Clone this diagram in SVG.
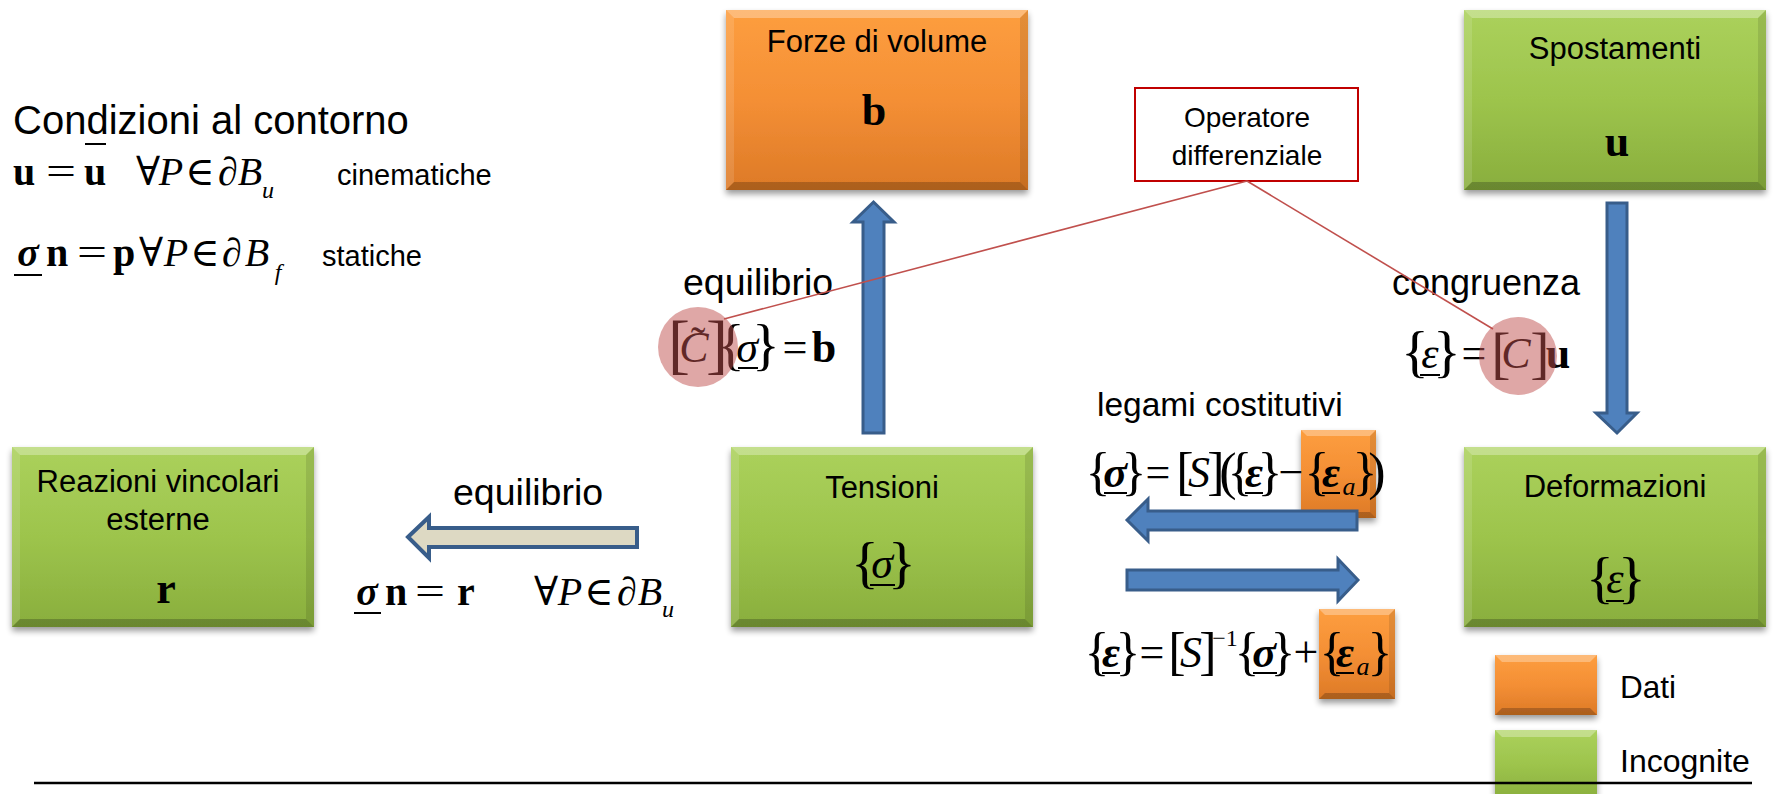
<svg xmlns="http://www.w3.org/2000/svg" xmlns:xlink="http://www.w3.org/1999/xlink" width="1778" height="794" viewBox="0 0 1778 794">
<defs>
<linearGradient id="gGreen" x1="0" y1="0" x2="0" y2="1">
<stop offset="0" stop-color="#abd15c"/><stop offset="0.5" stop-color="#9dc44c"/><stop offset="1" stop-color="#89ae3d"/>
</linearGradient>
<linearGradient id="gOrange" x1="0" y1="0" x2="0" y2="1">
<stop offset="0" stop-color="#fd9e3f"/><stop offset="0.5" stop-color="#f48f35"/><stop offset="1" stop-color="#dd7a27"/>
</linearGradient>
<filter id="sh" x="-10%" y="-10%" width="120%" height="130%">
<feGaussianBlur in="SourceAlpha" stdDeviation="3"/>
<feOffset dx="0" dy="4" result="o"/>
<feComponentTransfer><feFuncA type="linear" slope="0.4"/></feComponentTransfer>
<feMerge><feMergeNode/><feMergeNode in="SourceGraphic"/></feMerge>
</filter>
<g id="gbox">
<rect width="302" height="180" fill="url(#gGreen)"/>
<polygon points="0,0 302,0 294,8 8,8" class="bt"/>
<polygon points="0,0 8,8 8,172 0,180" class="bl"/>
<polygon points="302,0 302,180 294,172 294,8" class="br"/>
<polygon points="0,180 8,172 294,172 302,180" class="bb"/>
</g>
<g id="obox">
<rect width="302" height="180" fill="url(#gOrange)"/>
<polygon points="0,0 302,0 294,8 8,8" class="bt"/>
<polygon points="0,0 8,8 8,172 0,180" class="bl"/>
<polygon points="302,0 302,180 294,172 294,8" class="br"/>
<polygon points="0,180 8,172 294,172 302,180" class="bb"/>
</g>
<style>
.bt{fill:#ffffff;fill-opacity:0.3}
.bl{fill:#ffffff;fill-opacity:0.12}
.br{fill:#000000;fill-opacity:0.1}
.bb{fill:#000000;fill-opacity:0.22}
.s{font-family:"Liberation Sans",Arial,sans-serif;fill:#000}
.t{font-size:31px;text-anchor:middle}
.lab{font-size:37.5px}
.m{font-family:"Liberation Serif","DejaVu Serif",serif;font-size:44px;fill:#000;text-anchor:middle}
.m40{font-size:40px}
.b{font-weight:bold}
.i{font-style:italic}
.br52{font-size:52px}
.br58{font-size:58px}
.ul{stroke:#000;stroke-width:2}
.blue{fill:#4f81bd;stroke:#385d8a;stroke-width:3}
.beige{fill:#ddd9c3;stroke:#385d8a;stroke-width:4}
.red{stroke:#c0504d;stroke-width:1.6;fill:none}
.hl{fill:#c0504d;fill-opacity:0.5}
</style>
</defs>
<rect width="1778" height="794" fill="#ffffff"/>

<g id="condizioni">
<text class="s" x="13" y="134" style="font-size:40px">Condizioni al contorno</text>
<text class="m m40 b" x="24" y="185">u</text>
<text class="m m40" x="61" y="185" textLength="30" lengthAdjust="spacingAndGlyphs">=</text>
<text class="m m40 b" x="95" y="185">u</text>
<line class="ul" x1="85" y1="144" x2="106" y2="144" stroke-width="2.5"/>
<text class="m m40" x="148" y="185">∀</text>
<text class="m m40 i" x="171" y="185">P</text>
<text class="m m40" x="200" y="185">∈</text>
<text class="m m40" x="228" y="185">∂</text>
<text class="m m40 i" x="250" y="185">B</text>
<text class="m i" x="268" y="198" style="font-size:24px">u</text>
<text class="s" x="337" y="185" style="font-size:29px">cinematiche</text>
<text class="m m40 b i" x="28" y="266">σ</text>
<line class="ul" x1="14" y1="275" x2="42" y2="275" stroke-width="2.5"/>
<text class="m m40 b" x="57" y="266">n</text>
<text class="m m40" x="92" y="266" textLength="30" lengthAdjust="spacingAndGlyphs">=</text>
<text class="m m40 b" x="124" y="266">p</text>
<text class="m m40" x="151" y="266">∀</text>
<text class="m m40 i" x="176" y="266">P</text>
<text class="m m40" x="205" y="266">∈</text>
<text class="m m40" x="232" y="266">∂</text>
<text class="m m40 i" x="257" y="266">B</text>
<text class="m i" x="278" y="280" style="font-size:24px">f</text>
<text class="s" x="322" y="266" style="font-size:29px">statiche</text>
</g>

<g id="connectors">
<path class="blue" d="M873.5,202 L894,222 L884,222 L884,433 L863,433 L863,222 L853,222 Z"/>
<path class="blue" d="M1617,433 L1637,413 L1627,413 L1627,203 L1607,203 L1607,413 L1596,413 Z"/>
<path class="beige" d="M408,537 L429,517 L429,528 L637,528 L637,547 L429,547 L429,558 Z"/>
</g>

<g id="forze" filter="url(#sh)">
<use xlink:href="#obox" x="726" y="10"/>
</g>
<g id="forze-text">
<text class="s t" x="877" y="52">Forze di volume</text>
<text class="m b" x="874" y="125">b</text>
</g>

<g id="spostamenti" filter="url(#sh)">
<use xlink:href="#gbox" x="1464" y="10"/>
</g>
<g id="spostamenti-text">
<text class="s t" x="1615" y="59">Spostamenti</text>
<text class="m b" x="1617" y="156">u</text>
</g>

<g id="tensioni" filter="url(#sh)">
<use xlink:href="#gbox" x="731" y="447"/>
</g>
<g id="tensioni-text">
<text class="s t" x="882" y="498">Tensioni</text>
<text class="m br58" x="865" y="582">{</text>
<text class="m i" x="882" y="578">σ</text>
<line class="ul" x1="870" y1="585" x2="895" y2="585"/>
<text class="m br58" x="902" y="582">}</text>
</g>

<g id="deformazioni" filter="url(#sh)">
<use xlink:href="#gbox" x="1464" y="447"/>
</g>
<g id="deformazioni-text">
<text class="s t" x="1615" y="497">Deformazioni</text>
<text class="m br58" x="1600" y="597">{</text>
<text class="m i" x="1615" y="593">ε</text>
<line class="ul" x1="1606" y1="601" x2="1624" y2="601"/>
<text class="m br58" x="1632" y="597">}</text>
</g>

<g id="reazioni" filter="url(#sh)">
<use xlink:href="#gbox" x="12" y="447"/>
</g>
<g id="reazioni-text">
<text class="s t" x="158" y="492">Reazioni vincolari</text>
<text class="s t" x="158" y="530">esterne</text>
<text class="m b" x="166" y="603">r</text>
</g>

<g id="operatore">
<rect x="1135" y="88" width="223" height="93" fill="#ffffff" stroke="#c00000" stroke-width="2"/>
<text class="s t" x="1247" y="127" style="font-size:28px">Operatore</text>
<text class="s t" x="1247" y="165" style="font-size:28px">differenziale</text>
</g>

<g id="label-equilibrio-b">
<text class="s lab" x="683" y="295">equilibrio</text>
<text class="m" x="679" y="366" style="font-size:66px">[</text>
<text class="m i" x="694" y="362">C</text>
<text class="m" x="698" y="357">˜</text>
<text class="m" x="717" y="366" style="font-size:66px">]</text>
<text class="m br58" x="731" y="364">{</text>
<text class="m i" x="747" y="362">σ</text>
<line class="ul" x1="738" y1="368" x2="758" y2="368"/>
<text class="m br58" x="766" y="364">}</text>
<text class="m" x="795" y="362" textLength="25" lengthAdjust="spacingAndGlyphs">=</text>
<text class="m b" x="824" y="362">b</text>
</g>

<g id="label-congruenza">
<text class="s" x="1392" y="295" style="font-size:36px">congruenza</text>
<text class="m br58" x="1415" y="371">{</text>
<text class="m i" x="1430" y="368">ε</text>
<line class="ul" x1="1420" y1="375" x2="1440" y2="375"/>
<text class="m br58" x="1447" y="371">}</text>
<text class="m" x="1474" y="368">=</text>
<text class="m" x="1501" y="372" style="font-size:58px">[</text>
<text class="m i" x="1516" y="368">C</text>
<text class="m" x="1540" y="372" style="font-size:58px">]</text>
<text class="m b" x="1558" y="368">u</text>
</g>

<g id="label-legami">
<text class="s" x="1097" y="416" style="font-size:33.5px">legami costitutivi</text>
<g id="ea1" filter="url(#sh)">
<rect x="1301" y="430" width="75" height="88" fill="url(#gOrange)"/>
<polygon points="1301,430 1376,430 1370,436 1307,436" class="bt"/>
<polygon points="1301,518 1307,512 1370,512 1376,518" class="bb"/>
<polygon points="1376,430 1376,518 1370,512 1370,436" class="br"/>
</g>
<text class="m br52" x="1098" y="489">{</text>
<text class="m b i" x="1115" y="487">σ</text>
<line class="ul" x1="1104" y1="493" x2="1127" y2="493"/>
<text class="m br52" x="1134" y="489">}</text>
<text class="m" x="1158" y="487">=</text>
<text class="m br52" x="1185" y="489">[</text>
<text class="m i" x="1199" y="487">S</text>
<text class="m br52" x="1216" y="489">]</text>
<text class="m br52" x="1228" y="489">(</text>
<text class="m br52" x="1240" y="489">{</text>
<text class="m b i" x="1254" y="487">ε</text>
<line class="ul" x1="1245" y1="493" x2="1263" y2="493"/>
<text class="m br52" x="1270" y="489">}</text>
<text class="m" x="1291" y="487">−</text>
<text class="m br52" x="1317" y="489">{</text>
<text class="m b i" x="1331" y="487">ε</text>
<line class="ul" x1="1322" y1="493" x2="1340" y2="493"/>
<text class="m i" x="1349" y="495" style="font-size:26px">a</text>
<text class="m br52" x="1365" y="489">}</text>
<text class="m br52" x="1377" y="489">)</text>

<g id="ea2" filter="url(#sh)">
<rect x="1319" y="609" width="76" height="90" fill="url(#gOrange)"/>
<polygon points="1319,609 1395,609 1389,615 1325,615" class="bt"/>
<polygon points="1319,699 1325,693 1389,693 1395,699" class="bb"/>
<polygon points="1395,609 1395,699 1389,693 1389,615" class="br"/>
</g>
<text class="m br52" x="1097" y="669">{</text>
<text class="m b i" x="1111" y="667">ε</text>
<line class="ul" x1="1102" y1="673" x2="1120" y2="673"/>
<text class="m br52" x="1128" y="669">}</text>
<text class="m" x="1152" y="667">=</text>
<text class="m br52" x="1177" y="669">[</text>
<text class="m i" x="1191" y="667">S</text>
<text class="m br52" x="1208" y="669">]</text>
<text class="m" x="1225" y="646" style="font-size:24px">−1</text>
<text class="m br52" x="1247" y="669">{</text>
<text class="m b i" x="1264" y="667">σ</text>
<line class="ul" x1="1253" y1="673" x2="1277" y2="673"/>
<text class="m br52" x="1283" y="669">}</text>
<text class="m" x="1306" y="667">+</text>
<text class="m br52" x="1332" y="669">{</text>
<text class="m b i" x="1345" y="667">ε</text>
<line class="ul" x1="1336" y1="673" x2="1354" y2="673"/>
<text class="m i" x="1363" y="675" style="font-size:26px">a</text>
<text class="m br52" x="1380" y="669">}</text>
</g>

<g id="connectors-2">
<path class="blue" d="M1127,520 L1148,499 L1148,511 L1357,511 L1357,530 L1148,530 L1148,541 Z"/>
<path class="blue" d="M1358,580 L1338,559 L1338,570 L1127,570 L1127,590 L1338,590 L1338,601 Z"/>
</g>

<g id="label-equilibrio-r">
<text class="s lab" x="453" y="505">equilibrio</text>
<text class="m m40 b i" x="367" y="605">σ</text>
<line class="ul" x1="354" y1="613" x2="381" y2="613" stroke-width="2.5"/>
<text class="m m40 b" x="396" y="605">n</text>
<text class="m m40" x="430" y="605" textLength="30" lengthAdjust="spacingAndGlyphs">=</text>
<text class="m m40 b" x="466" y="605">r</text>
<text class="m m40" x="546" y="605">∀</text>
<text class="m m40 i" x="570" y="605">P</text>
<text class="m m40" x="599" y="605">∈</text>
<text class="m m40" x="627" y="605">∂</text>
<text class="m m40 i" x="650" y="605">B</text>
<text class="m i" x="668" y="617" style="font-size:24px">u</text>
</g>

<g id="operator-links">
<line class="red" x1="1247" y1="181" x2="724" y2="319"/>
<line class="red" x1="1247" y1="181" x2="1493" y2="329"/>
<circle class="hl" cx="698" cy="347" r="40"/>
<circle class="hl" cx="1518" cy="356" r="39"/>
</g>

<g id="legend">
<g filter="url(#sh)">
<rect x="1495" y="655" width="102" height="60" fill="url(#gOrange)"/>
<polygon points="1495,655 1597,655 1590,662 1502,662" class="bt"/>
<polygon points="1495,715 1502,708 1590,708 1597,715" class="bb"/>
<rect x="1495" y="730" width="102" height="70" fill="url(#gGreen)"/>
<polygon points="1495,730 1597,730 1590,737 1502,737" class="bt"/>
</g>
<text class="s" x="1620" y="698" style="font-size:31.5px">Dati</text>
<text class="s" x="1620" y="772" style="font-size:32px">Incognite</text>
</g>

<line x1="34" y1="783" x2="1752" y2="783" stroke="#000" stroke-width="2.5"/>
</svg>
